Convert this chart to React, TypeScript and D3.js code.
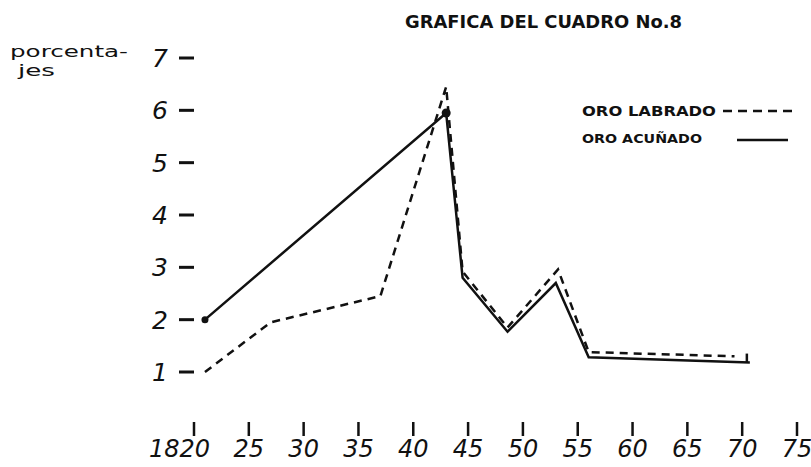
import React from "react";
import { scaleLinear, line } from "d3";

// years and percentages
const labradoYears = [1821, 1827, 1837, 1843, 1844.5, 1848.6, 1853.2, 1856, 1869.3];
const labradoValues = [1.0, 1.95, 2.45, 6.45, 2.92, 1.85, 2.96, 1.38, 1.3];
const acunadoYears = [1821, 1843, 1844.5, 1848.6, 1853, 1856, 1870.7];
const acunadoValues = [2.0, 5.95, 2.8, 1.77, 2.7, 1.28, 1.18];

const xTicks = [1820, 1825, 1830, 1835, 1840, 1845, 1850, 1855, 1860, 1865, 1870, 1875];
const yTicks = [1, 2, 3, 4, 5, 6, 7];

const W = 811;
const H = 467;
const hand = "'DejaVu Sans', sans-serif";

export default function App() {
  const x = scaleLinear().domain([1820, 1875]).range([194, 797]);
  const y = scaleLinear().domain([1, 7]).range([372, 58]);

  const pathOf = (xs: number[], vs: number[]) =>
    line<number>()
      .x((_, i) => x(xs[i]))
      .y((v) => y(v))(vs) || "";

  const lastX = x(acunadoYears[acunadoYears.length - 1]);
  const lastY = y(acunadoValues[acunadoValues.length - 1]);

  return (
    <svg
      width={W}
      height={H}
      style={{ position: "absolute", left: 0, top: 0, background: "#fff" }}
    >
      <text x={405} y={28} fontFamily={hand} fontWeight="bold" fontSize={18} fill="#111"
        textLength={277} lengthAdjust="spacingAndGlyphs">
        GRAFICA DEL CUADRO No.8
      </text>

      {/* y axis title, written over two lines */}
      <text x={10} y={57} fontFamily={hand} fontSize={15} fill="#111"
        textLength={118} lengthAdjust="spacingAndGlyphs">porcenta-</text>
      <text x={18} y={76} fontFamily={hand} fontSize={15} fill="#111"
        textLength={37} lengthAdjust="spacingAndGlyphs">jes</text>

      {/* y ticks */}
      {yTicks.map((t) => (
        <g key={t}>
          <text x={168} y={y(t) + 9} fontFamily={hand} fontStyle="italic" fontSize={25} textAnchor="end" fill="#111">
            {t}
          </text>
          <line x1={179} x2={194} y1={y(t)} y2={y(t)} stroke="#111" strokeWidth={3} />
        </g>
      ))}

      {/* x ticks */}
      {xTicks.map((t) => (
        <g key={t}>
          <line x1={x(t)} x2={x(t)} y1={422} y2={436} stroke="#111" strokeWidth={2.5} />
          <text
            x={t === 1820 ? x(t) + 16 : x(t)}
            y={457}
            fontFamily={hand}
            fontStyle="italic"
            fontSize={24}
            textAnchor={t === 1820 ? "end" : "middle"}
            fill="#111"
          >
            {t === 1820 ? "1820" : String(t).slice(2)}
          </text>
        </g>
      ))}

      {/* series */}
      <path d={pathOf(labradoYears, labradoValues)} fill="none" stroke="#111" strokeWidth={2.5} strokeDasharray="8,6" />
      <path d={pathOf(acunadoYears, acunadoValues)} fill="none" stroke="#111" strokeWidth={2.5} />
      <circle cx={x(acunadoYears[0])} cy={y(acunadoValues[0])} r={3.5} fill="#111" />
      <circle cx={x(acunadoYears[1])} cy={y(acunadoValues[1])} r={4.5} fill="#111" />
      <line x1={lastX - 3} x2={lastX - 3} y1={lastY - 9} y2={lastY} stroke="#111" strokeWidth={2.5} />

      {/* legend */}
      <text x={582} y={116} fontFamily={hand} fontWeight="bold" fontSize={14} fill="#111"
        textLength={134} lengthAdjust="spacingAndGlyphs">ORO LABRADO</text>
      <line x1={723} x2={792} y1={111} y2={111} stroke="#111" strokeWidth={2.5} strokeDasharray="9,6" />
      <text x={582} y={143} fontFamily={hand} fontWeight="bold" fontSize={13} fill="#111"
        textLength={120} lengthAdjust="spacingAndGlyphs">ORO ACUÑADO</text>
      <line x1={737} x2={788} y1={140} y2={140} stroke="#111" strokeWidth={2.5} />
    </svg>
  );
}
